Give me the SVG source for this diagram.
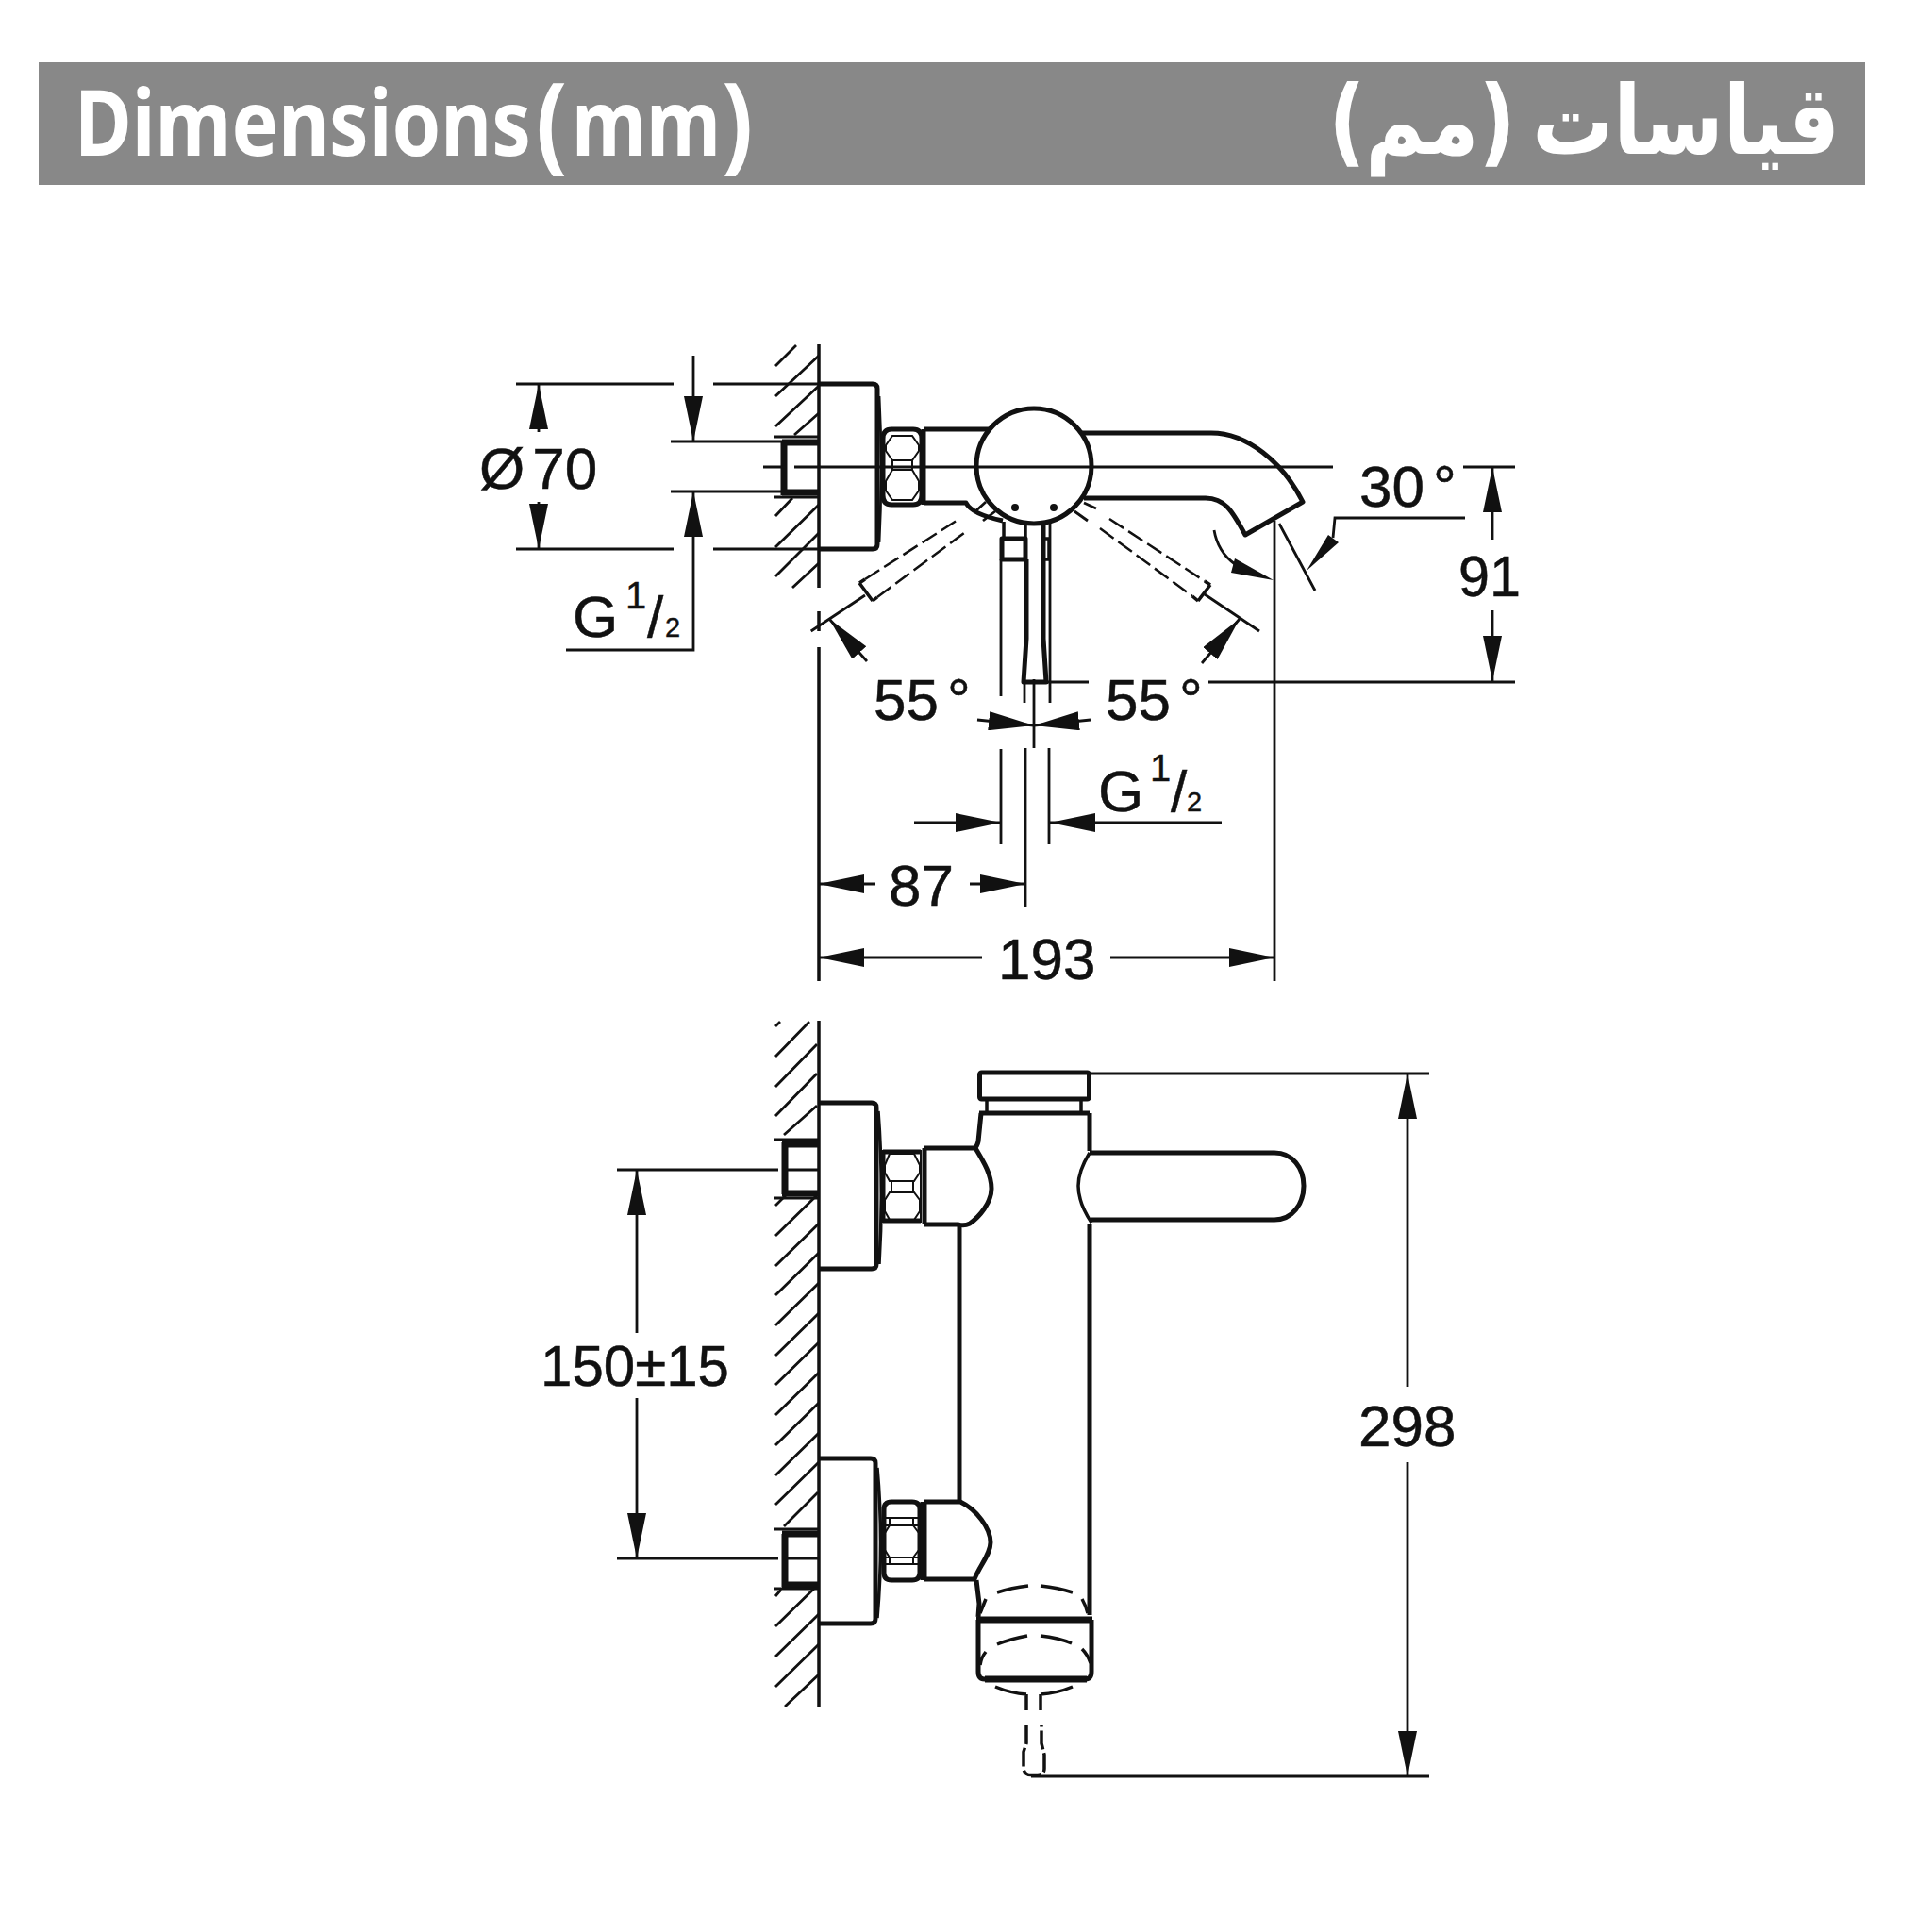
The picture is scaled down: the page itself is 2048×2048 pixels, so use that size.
<svg xmlns="http://www.w3.org/2000/svg" width="2048" height="2048" viewBox="0 0 2048 2048">
<defs>
<style>
.t{font-family:"Liberation Sans",Arial,sans-serif;font-size:62px;fill:#111;stroke:#111;stroke-width:.5}
.s{font-family:"Liberation Sans",Arial,sans-serif;font-size:40px;fill:#111;stroke:#111;stroke-width:.4}
.x{font-family:"Liberation Sans",Arial,sans-serif;font-size:29px;fill:#111;stroke:#111;stroke-width:.4}
.h{font-family:"Noto Sans","Open Sans",sans-serif;font-weight:700;fill:#fff}
.thin{fill:none;stroke:#111;stroke-width:2.8}
.hair{fill:none;stroke:#111;stroke-width:2}
.med{fill:none;stroke:#111;stroke-width:3.5;stroke-linejoin:round}
.thick{fill:none;stroke:#111;stroke-width:5;stroke-linejoin:round}
.bold{fill:none;stroke:#111;stroke-width:7}
.dash{fill:none;stroke:#111;stroke-width:2.5;stroke-dasharray:18 6}
.arr{fill:#111;stroke:none}
</style>
<marker id="a" markerUnits="userSpaceOnUse" viewBox="0 0 48 20" refX="48" refY="10" markerWidth="48" markerHeight="20" orient="auto"><path d="M0 0L48 10L0 20Z" fill="#111"/></marker>
</defs>
<rect width="2048" height="2048" fill="#fff"/>
<g id="header">
<rect x="41" y="66" width="1936" height="130" fill="#888"/>
<text class="h" transform="translate(79,165) scale(1,1.17)" font-size="83">Dimensions</text>
<text class="h" transform="translate(568,169) scale(1,1.16)" font-size="98">(</text>
<text class="h" transform="translate(606,165) scale(1,1.2)" font-size="81">mm</text>
<text class="h" transform="translate(765,169) scale(1,1.16)" font-size="98">)</text>
<text transform="translate(1950,163) scale(1.02,1.2)" direction="rtl" word-spacing="-12" font-family="'DejaVu Sans',sans-serif" font-size="84" font-weight="700" fill="#fff">قیاسات (مم)</text>
</g>
<g id="top-view">
<path class="thin" d="M822 388L844 366M822 420L868 377M822 452L868 409M842 461L868 438M822 547L840 528M822 580L868 535M822 611L868 565M840 623L868 597"/>
<path class="med" d="M868 365V623M868 648V669M868 686V1040"/>
<path class="thick" d="M868 407H925Q930 407 930 412V577Q930 582 925 582H868"/>
<path class="thin" d="M932 420Q936 495 932 575"/>
<path class="bold" d="M831 467V525M829 469H868M829 522H868"/>
<path class="thin" d="M821 463H868M821 527H868"/>
<path class="thick" d="M936 465Q936 455 945 455H968Q977 455 977 465V525Q977 535 968 535H945Q936 535 936 525Z"/>
<path class="hair" d="M946 462H967L974 472V478L967 488H946L939 478V472ZM946 498H967L974 510V520L967 530H946L939 520V510ZM946 488V498M967 488V498"/>
<path class="thick" d="M979 455V535"/>
<path class="thick" d="M979 455H1051M979 533H1024Q1030 545 1063 552"/>
<path class="thin" d="M1034 542L1045 532M1042 552L1055 542"/>
<circle cx="1096" cy="494" r="61" class="thick"/>
<circle cx="1076" cy="538" r="4" fill="#111"/><circle cx="1117" cy="538" r="4" fill="#111"/>
<path class="thick" d="M1147 459H1284C1322 459 1360 490 1381 532L1320 567C1306 541 1298 528 1278 528H1149"/>
<path class="thin" d="M809 495H832M842 495H1413"/>
<path class="thin" d="M1096 720V793"/>
<path class="med" d="M1064 553V570M1087 553V570"/>
<rect x="1062" y="571" width="25" height="22" class="thick"/>
<path class="thick" d="M1088 593V677L1085 723H1109L1106 677V553"/>
<path class="med" d="M1104 571H1112V593H1104"/>
<path class="thin" d="M1061 593V738M1113 553V745M1086 723V745"/>
<path class="thin" d="M1139 542L1153 552M1149 533L1162 539M859.7 669L917 631M1335 669L1277 630"/>
<path class="med" d="M911 618L925 637M1283 620L1270 637M911 618L917 614M925 637L930 633M1283 620L1277 616M1270 637L1264 632"/>
<path class="dash" d="M917 614L1017 550M930 633L1026 562M1176 550L1277 616M1166 560L1264 632"/>
</g>
<g id="front-view">
<path class="thin" d="M827 1083L822 1088M822 1120L858 1083M822 1152L866 1107M822 1183L866 1138M831 1203L866 1172M822 1278L836 1264M822 1310L868 1265M822 1342L868 1297M822 1373L868 1328M822 1405L868 1360M822 1437L868 1392M822 1468L868 1423M822 1500L868 1455M822 1532L868 1487M822 1564L868 1519M822 1595L868 1550M831 1618L867 1582M822 1692L828 1685M822 1724L868 1679M822 1756L868 1711M822 1788L868 1743M832 1809L868 1775"/>
<path class="med" d="M868 1082V1809"/>
<path class="thick" d="M868 1169H924Q929 1169 929 1174V1340Q929 1345 924 1345H868M868 1546H923Q928 1546 928 1551V1716Q928 1721 923 1721H868"/>
<path class="med" d="M931 1178Q937 1257 932 1340M930 1556Q937 1634 930 1715"/>
<path class="bold" d="M832 1211V1266M829 1213H868M829 1265H868M832 1626V1682M829 1626H868M829 1680H868"/>
<path class="thin" d="M821 1208H868M821 1270H868M821 1621H868M821 1684H868"/>
<path class="hair" d="M936 1220H976V1295H936ZM943 1223L938 1235V1243L943 1252H969L975 1243V1235L969 1223ZM943 1264L938 1272V1284L943 1293H969L975 1284V1272L969 1264ZM945 1252V1264M968 1252V1264"/>
<path class="thick" d="M936 1221H976M936 1294H976M936 1221V1294"/>
<path class="thick" d="M980 1217V1297"/>
<path class="thick" d="M980 1217H1034C1043 1232 1051 1245 1051 1260C1051 1275 1038 1290 1028 1297Q1022 1300 1016 1298H980"/>
<path class="thick" d="M1017 1298V1592"/>
<path class="thick" d="M1040 1180L1037 1210Q1036 1215 1033 1217M1155 1180V1220M1155 1297V1712"/>
<rect x="1038.500" y="1137" width="116" height="28" rx="2" class="thick"/>
<path class="med" d="M1046 1165V1180M1146 1165V1180"/>
<path class="thick" d="M1038 1180H1155"/>
<path class="thick" d="M1155 1222H1351C1370 1222 1382 1238 1382 1257C1382 1276 1370 1293 1351 1293H1157"/>
<path class="med" d="M1155 1222C1147 1235 1143 1247 1143 1257C1143 1268 1147 1281 1157 1296"/>
<path class="thick" d="M937 1600Q937 1592 945 1592H967Q975 1592 975 1600V1667Q975 1675 967 1675H945Q937 1675 937 1667Z"/>
<path class="hair" d="M943 1609V1617M968 1609V1617M938 1609H974M938 1617H974M938 1651H974M938 1658H974M943 1651V1658M968 1651V1658M943 1617L938 1625V1643L943 1651M968 1617L974 1625V1643L968 1651"/>
<path class="bold" d="M979 1592V1675"/>
<path class="thick" d="M980 1592H1018C1035 1600 1050 1620 1050 1635C1050 1648 1038 1660 1033 1674H980"/>
<path class="thick" d="M1035 1675L1038 1700L1037 1714"/>
<path class="bold" d="M1035 1717H1158"/>
<path class="thick" d="M1037 1717V1772Q1037 1780 1044 1780H1150Q1157 1780 1157 1772V1717"/>
<path class="bold" d="M1044 1780H1152"/>
<path class="med" d="M1057 1688Q1072 1683 1090 1681M1103 1681Q1122 1683 1137 1688M1147 1695Q1151 1702 1153 1710M1045 1695L1039 1710M1057 1743Q1072 1737 1089 1734M1103 1734Q1122 1736 1136 1742M1147 1748Q1153 1754 1156 1763M1045 1751Q1040 1757 1039 1765M1055 1788Q1072 1795 1088 1796M1137 1788Q1120 1795 1103 1796M1088 1796V1813M1103 1796V1813"/>
<path class="med" stroke-dasharray="20 4" d="M1088 1829V1848L1085 1857V1875Q1086 1882 1094 1881.500H1100Q1107 1881 1107 1875V1860L1104 1848V1829"/>
</g>
<g id="dimensions">
<path class="thin" d="M547 407H714M756 407H868M547 582H714M756 582H868M711 468H829M711 521H829M1093 1883H1515M1155 1138H1515M654 1240H825M835 1240H868M654 1652H825M835 1652H868"/>
<path class="thin" d="M1351 552V1040M1356 555L1394 626M1551 495H1606M1110 723H1154M1281 723H1606"/>
<path class="thin" d="M1061 794V895M1087 793V961M1112 793V895"/>
<path class="thin" d="M571 458V407" marker-end="url(#a)"/>
<path class="thin" d="M571 532V582" marker-end="url(#a)"/>
<path class="thin" d="M735 377V468" marker-end="url(#a)"/>
<path class="thin" d="M600 689H735V521" marker-end="url(#a)"/>
<path class="thin" d="M919 701L879 656" marker-end="url(#a)"/>
<path class="thin" d="M1274 703L1314 656" marker-end="url(#a)"/>
<path class="thin" d="M1287 562C1290 580 1298 590 1309 598"/>
<polygon class="arr" points="1350,615 1309,592 1305,607"/>
<path class="thin" d="M1553 549H1415L1413 570"/>
<polygon class="arr" points="1385,605 1408,567 1419,575"/>
<path class="thin" d="M1582 572V495" marker-end="url(#a)"/>
<path class="thin" d="M1582 647V722" marker-end="url(#a)"/>
<path class="thin" d="M1036 763L1096 769" marker-end="url(#a)"/>
<path class="thin" d="M1156 763L1096 769" marker-end="url(#a)"/>
<path class="thin" d="M969 872H1061" marker-end="url(#a)"/>
<path class="thin" d="M1295 872H1113" marker-end="url(#a)"/>
<path class="thin" d="M928 937H868" marker-end="url(#a)"/>
<path class="thin" d="M1028 937H1087" marker-end="url(#a)"/>
<path class="thin" d="M1041 1015H868" marker-end="url(#a)"/>
<path class="thin" d="M1177 1015H1351" marker-end="url(#a)"/>
<path class="thin" d="M675 1413V1240" marker-end="url(#a)"/>
<path class="thin" d="M675 1482V1652" marker-end="url(#a)"/>
<path class="thin" d="M1492 1470V1138" marker-end="url(#a)"/>
<path class="thin" d="M1492 1550V1883" marker-end="url(#a)"/>
<text class="t" x="508" y="518">Ø<tspan dx="8">70</tspan></text>
<text class="t" x="607" y="675">G</text><text class="s" x="663" y="645">1</text><text class="t" x="686" y="675">/</text><text class="x" x="705" y="675">2</text>
<text class="t" x="1441" y="537">30<tspan dx="9">°</tspan></text>
<text class="t" x="1546" y="632" textLength="66" lengthAdjust="spacingAndGlyphs">91</text>
<text class="t" x="926" y="763">55<tspan dx="9">°</tspan></text>
<text class="t" x="1172" y="763">55<tspan dx="9">°</tspan></text>
<text class="t" x="1164" y="860">G</text><text class="s" x="1219" y="828">1</text><text class="t" x="1241" y="860">/</text><text class="x" x="1258" y="860">2</text>
<text class="t" x="942" y="960">87</text>
<text class="t" x="1058" y="1038">193</text>
<text class="t" x="573" y="1469" textLength="200" lengthAdjust="spacingAndGlyphs">150±15</text>
<text class="t" x="1440" y="1533">298</text>
</g>
</svg>
